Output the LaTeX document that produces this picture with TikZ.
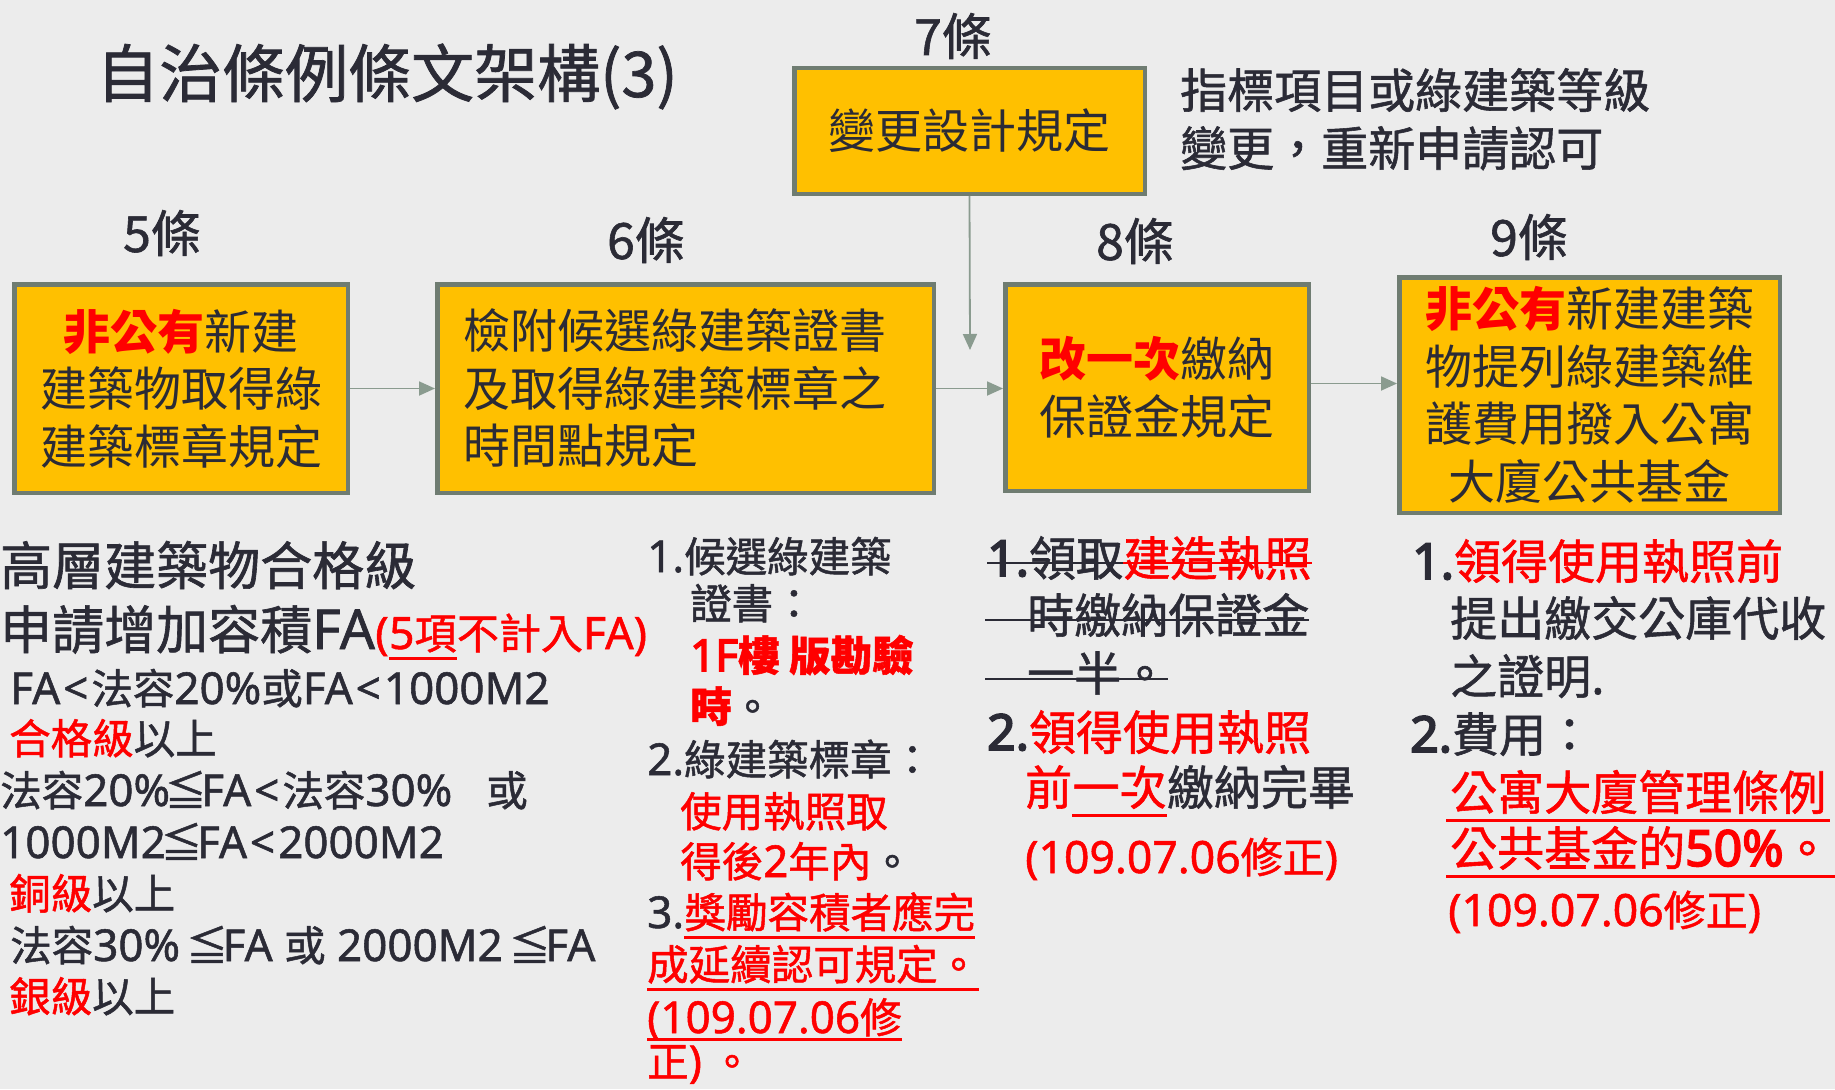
\documentclass[tikz,border=0pt]{standalone}
\usepackage{fontspec}
\usetikzlibrary{arrows.meta}
\setmainfont{Noto Sans CJK TC}
\newfontfamily\fr{Noto Sans CJK TC}
\newfontfamily\fm{Noto Sans CJK TC}[FakeBold=1.2]
\newfontfamily\latm{Noto Sans}[Scale=1.06,FakeBold=1.2]
\newfontfamily\latb{Noto Sans}[Scale=1.06,FakeBold=3.5]
\definecolor{ink}{HTML}{2B2B36}
\definecolor{boxfill}{HTML}{FFC000}
\definecolor{boxline}{HTML}{6F7C71}
\definecolor{arrowc}{HTML}{8A9B8F}
\definecolor{bgc}{HTML}{ECECEC}
\newcommand{\rb}[1]{\textcolor{red}{\bfseries #1}}
\newcommand{\rd}[1]{\textcolor{red}{#1}}
\newcommand{\La}[1]{{\latm #1}}
\newcommand{\Lb}[1]{{\latb #1}}
\newcommand{\ltx}{\makebox[0.75em]{\latm <}}
\newcommand{\lsq}{\makebox[0.75em]{≦}}
\begin{document}
\begin{tikzpicture}[x=1pt,y=-1pt,
  box/.style={draw=boxline,line width=4.5pt,fill=boxfill,inner sep=0pt,align=center,text=ink,
    font={\fr\fontsize{47}{57.5}\selectfont}},
  arr/.style={draw=arrowc,line width=1.8pt,-{Triangle[length=16pt,width=14pt]}},
  lbl/.style={inner sep=0pt,text=ink,font={\fm\fontsize{50}{60}\selectfont}},
  tl/.style={anchor=base west,inner sep=0pt,text=ink},
  big/.style={tl,font={\fm\fontsize{52}{60}\selectfont}},
  sm/.style={tl,font={\fm\fontsize{41.5}{50}\selectfont}},
  md/.style={tl,font={\fm\fontsize{47}{57}\selectfont}},
  dt/.style={tl,text=red,font={\fm\fontsize{42}{50}\selectfont}},
  ulr/.style={draw=red,line width=3pt},
  stk/.style={draw=ink,line width=2.5pt}]
\fill[bgc] (0,0) rectangle (1835,1089);
\useasboundingbox (0,0) rectangle (1835,1089);

% title
\node[tl,font={\fm\fontsize{63}{70}\selectfont}] (title) at (96,97) {自治條例條文架構(3)};

% boxes
\node[box,minimum width=333.5pt,minimum height=208.5pt] (b5) at (181,388.5)
  {\rb{非公有}新建\\建築物取得綠\\建築標章規定};
\node[box,minimum width=496.5pt,minimum height=208.5pt] (b6) at (685.5,388.5) {};
\node[inner sep=0pt,align=left,text=ink,font={\fr\fontsize{47}{57.5}\selectfont}] (t6) at (675,388.5)
  {檢附候選綠建築證書\\及取得綠建築標章之\\時間點規定};
\node[box,minimum width=350.5pt,minimum height=125.5pt] (b7) at (969.5,131) {變更設計規定};
\node[box,minimum width=303.5pt,minimum height=206.5pt] (b8) at (1157,387.5)
  {\rb{改一次}繳納\\保證金規定};
\node[box,minimum width=380.5pt,minimum height=235.5pt] (b9) at (1589.5,395)
  {\rb{非公有}新建建築\\物提列綠建築維\\護費用撥入公寓\\大廈公共基金};

% article labels
\node[lbl] (l5) at (162,233) {5條};
\node[lbl] (l6) at (646,240) {6條};
\node[lbl] (l7) at (953,36) {7條};
\node[lbl] (l8) at (1135,241) {8條};
\node[lbl] (l9) at (1529,237) {9條};

% connectors
\coordinate (m7) at (970,350);
\draw[arr] (b5.east) -- (b6.west);
\draw[arr] (b6.east) -- (b6.east -| b8.west);
\draw[arr] ([yshift=4pt]b8.east) -- ([yshift=4pt]b8.east -| b9.west);
\draw[arr] (b7.south) -- (m7);

% note by article 7
\node[md] (n7a) at (1180,108) {指標項目或綠建築等級};
\node[md] (n7b) at (1180,166) {變更，重新申請認可};

% left block
\node[big] (a1) at (0,585) {高層建築物合格級};
\node[big] (a2a) at (0,649) {申請增加容積\La{FA}};
\node[dt] (a2b) at (a2a.base east) {\La{(}};
\node[dt] (a2c) at (a2b.base east) {\La{5}項};
\node[dt] (a2d) at (a2c.base east) {不計入\La{FA)}};
\draw[ulr] ([yshift=-9pt]a2c.base west) -- ([yshift=-9pt]a2c.base east);
\node[sm] (a3) at (10,704) {\La{FA}\ltx 法容\La{20\%}或\La{FA}\ltx\La{1000M2}};
\node[sm] (a4) at (9,754) {\rd{合格級}以上};
\node[sm] (a5) at (0,806) {法容\La{20\%}\lsq\La{FA}\ltx 法容\La{30\%}\hspace{34pt}或};
\node[sm] (a6) at (0,858) {\La{1000M2}\lsq\La{FA}\ltx\La{2000M2}};
\node[sm] (a7) at (9,909) {\rd{銅級}以上};
\node[sm] (a8) at (10,961) {法容\La{30\% }\lsq\La{FA }或\La{ 2000M2 }\lsq\La{FA}};
\node[sm] (a9) at (9,1012) {\rd{銀級}以上};

% middle block (article 6)
\node[sm] (c1) at (647,572) {\La{1.}候選綠建築};
\node[sm] (c2) at (690,619) {證書：};
\node[sm] (c3) at (690,671) {\rb{\Lb{1F}樓 版勘驗}};
\node[sm] (c4) at (690,722) {\rb{時}。};
\node[sm] (c5) at (647,775) {\La{2.}綠建築標章：};
\node[sm] (c6) at (680,827) {\rd{使用執照取}};
\node[sm] (c7) at (680,877) {\rd{得後\La{2}年內}。};
\node[sm] (c8a) at (647,928) {\La{3.}};
\node[sm,text=red] (c8b) at (c8a.base east) {獎勵容積者應完};
\draw[ulr] ([yshift=-9pt]c8b.base west) -- ([yshift=-9pt]c8b.base east);
\node[sm,text=red] (c9) at (647,980) {成延續認可規定。};
\draw[ulr] ([yshift=-9pt]c9.base west) -- ([yshift=-9pt]c9.base east);
\node[sm,text=red] (c10) at (647,1033) {\La{(109.07.06}修};
\draw[ulr] ([yshift=-6pt]c10.base west) -- ([yshift=-6pt]c10.base east);
\node[sm,text=red] (c11) at (647,1077) {正\La{)} 。};

% article 8 block
\node[md] (e1a) at (987,576) {\Lb{1.}領取};
\node[md,text=red] (e1b) at (e1a.base east) {建造執照};
\draw[stk] ([yshift=13pt]e1a.base west) -- ([yshift=13pt]e1a.base east);
\draw[stk,draw=red] ([yshift=13pt]e1b.base west) -- ([yshift=13pt]e1b.base east);
\node[md] (e2) at (1027,633) {時繳納保證金};
\draw[stk] ([xshift=-42pt,yshift=13pt]e2.base west) -- ([yshift=13pt]e2.base east);
\node[md] (e3) at (1027,691) {一半。};
\draw[stk] ([xshift=-42pt,yshift=12pt]e3.base west) -- ([yshift=12pt]e3.base east);
\node[md] (e4) at (987,750) {\Lb{2.}\rd{領得使用執照}};
\node[md,text=red] (e5a) at (1025,805) {前};
\node[md,text=red] (e5b) at (e5a.base east) {一次};
\node[md] (e5c) at (e5b.base east) {繳納完畢};
\draw[ulr] ([yshift=-10pt]e5b.base west) -- ([yshift=-10pt]e5b.base east);
\node[dt] (e6) at (1025,873) {\La{(109.07.06}修正\La{)}};

% article 9 block
\node[md] (f1) at (1412,579) {\Lb{1.}\rd{領得使用執照前}};
\node[md] (f2) at (1450,636) {提出繳交公庫代收};
\node[md] (f3) at (1450,694) {之證明\La{.}};
\node[md] (f4) at (1410,752) {\Lb{2.}費用：};
\node[md,text=red] (f5) at (1450,810) {公寓大廈管理條例};
\draw[ulr] ([xshift=-4pt,yshift=-10pt]f5.base west) -- ([xshift=4pt,yshift=-10pt]f5.base east);
\node[md,text=red] (f6) at (1450,866) {公共基金的\Lb{50\%}。};
\draw[ulr] ([xshift=-4pt,yshift=-10pt]f6.base west) -- ([xshift=4pt,yshift=-10pt]f6.base east);
\node[dt] (f7) at (1448,926) {\La{(109.07.06}修正\La{)}};
\end{tikzpicture}
\end{document}
